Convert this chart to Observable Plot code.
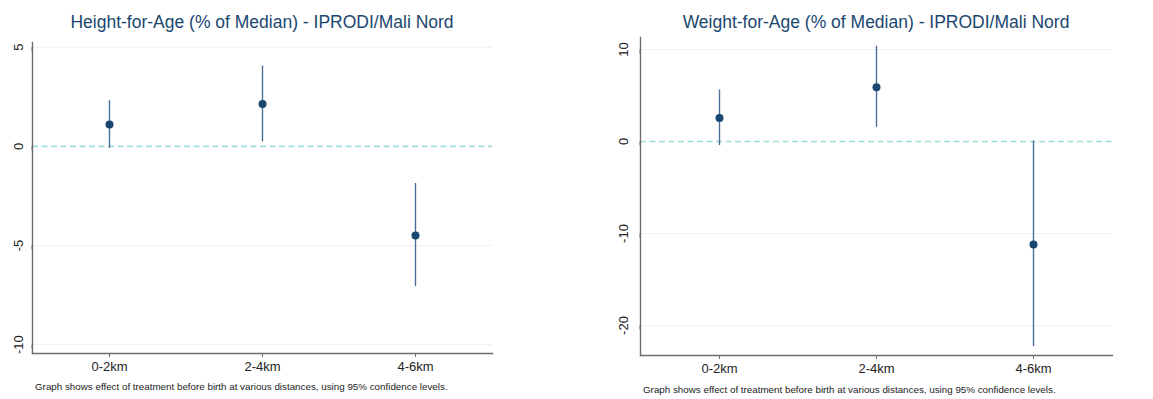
<!DOCTYPE html>
<html>
<head>
<meta charset="utf-8">
<script src="https://cdn.jsdelivr.net/npm/d3@7"></script>
<script src="https://cdn.jsdelivr.net/npm/@observablehq/plot@0.6"></script>
<style>
  html, body { margin: 0; padding: 0; background: #fff; }
  #root { position: relative; width: 1153px; height: 399px; overflow: hidden; font-family: "Liberation Sans", Arial, sans-serif; }
  .panel { position: absolute; top: 0; }
  .title { position: absolute; top: 12px; color: #1a476f; font-size: 17.5px; white-space: nowrap; transform: translateX(-50%); }
  .caption { position: absolute; color: #222; font-size: 9.8px; white-space: nowrap; }
</style>
</head>
<body>
<div id="root"></div>
<script>
// ---- data ----
const distances = ["0-2km", "2-4km", "4-6km"];

const hfaTitle = "Height-for-Age (% of Median) - IPRODI/Mali Nord";
const hfaEst = [1.1, 2.14, -4.5];
const hfaLo  = [-0.1, 0.22, -7.07];
const hfaHi  = [2.3, 4.05, -1.87];
const hfaTicks = [5, 0, -5, -10];
const hfaDomain = [-10.45, 5.24];

const wfaTitle = "Weight-for-Age (% of Median) - IPRODI/Mali Nord";
const wfaEst = [2.55, 5.9, -11.2];
const wfaLo  = [-0.45, 1.55, -22.3];
const wfaHi  = [5.6, 10.35, 0.05];
const wfaTicks = [10, 0, -10, -20];
const wfaDomain = [-23.26, 11.3];

const captionText = "Graph shows effect of treatment before birth at various distances, using 95% confidence levels.";

// ---- styles ----
const navy = "#1a476f";
const ciColor = "#4a6f98";
const zeroColor = "#9fdcdb";
const gridColor = "#edf1f4";
const axisColor = "#6d6d6d";

function panel({est, lo, hi, ticks, domain, width, marginLeft, marginRight, marginTop, marginBottom, labelPad}) {
  const rows = distances.map((d, i) => ({d, est: est[i], lo: lo[i], hi: hi[i]}));
  return Plot.plot({
    width, height: 399,
    marginLeft, marginRight, marginTop, marginBottom,
    style: {fontFamily: "'Liberation Sans', Arial, sans-serif", fontSize: "13px", background: "transparent", color: "#222"},
    x: {type: "point", domain: distances, padding: 0.5, axis: null},
    y: {domain, axis: null},
    marks: [
      Plot.ruleY(ticks.filter(t => t !== 0), {stroke: gridColor, strokeWidth: 1}),
      Plot.ruleY([0], {stroke: zeroColor, strokeWidth: 1.7, strokeDasharray: "6,3.5"}),
      Plot.ruleX(rows, {x: "d", y1: "lo", y2: "hi", stroke: ciColor, strokeWidth: 1.4}),
      Plot.dot(rows, {x: "d", y: "est", r: 4, fill: navy, stroke: null}),
      Plot.frame({anchor: "left", stroke: axisColor, strokeWidth: 1.4}),
      Plot.frame({anchor: "bottom", stroke: axisColor, strokeWidth: 1.4}),
      Plot.axisY({ticks, tickSize: 4, tickPadding: labelPad, rotate: -90, textAnchor: "middle", stroke: axisColor, fontSize: 13, fill: "#222", label: null, tickFormat: d => String(d)}),
      Plot.axisX({tickSize: 4, tickPadding: 4, stroke: axisColor, fontSize: 13, fill: "#222", label: null})
    ]
  });
}

const root = document.getElementById("root");

function addPanel(left, opts, title, captionLeft, captionTop) {
  const wrap = document.createElement("div");
  wrap.className = "panel";
  wrap.style.left = left + "px";
  wrap.appendChild(panel(opts));
  root.appendChild(wrap);
  const t = document.createElement("div");
  t.className = "title";
  t.textContent = title;
  t.style.left = (left + opts.marginLeft + (opts.width - opts.marginLeft - opts.marginRight) / 2) + "px";
  root.appendChild(t);
  const c = document.createElement("div");
  c.className = "caption";
  c.textContent = captionText;
  c.style.left = captionLeft + "px";
  c.style.top = captionTop + "px";
  root.appendChild(c);
}

addPanel(0, {est: hfaEst, lo: hfaLo, hi: hfaHi, ticks: hfaTicks, domain: hfaDomain,
  width: 570, marginLeft: 32, marginRight: 78, marginTop: 42, marginBottom: 46, labelPad: 10}, hfaTitle, 35, 381);

addPanel(580, {est: wfaEst, lo: wfaLo, hi: wfaHi, ticks: wfaTicks, domain: wfaDomain,
  width: 573, marginLeft: 60, marginRight: 41, marginTop: 37, marginBottom: 44, labelPad: 13}, wfaTitle, 643, 384);
</script>
</body>
</html>
